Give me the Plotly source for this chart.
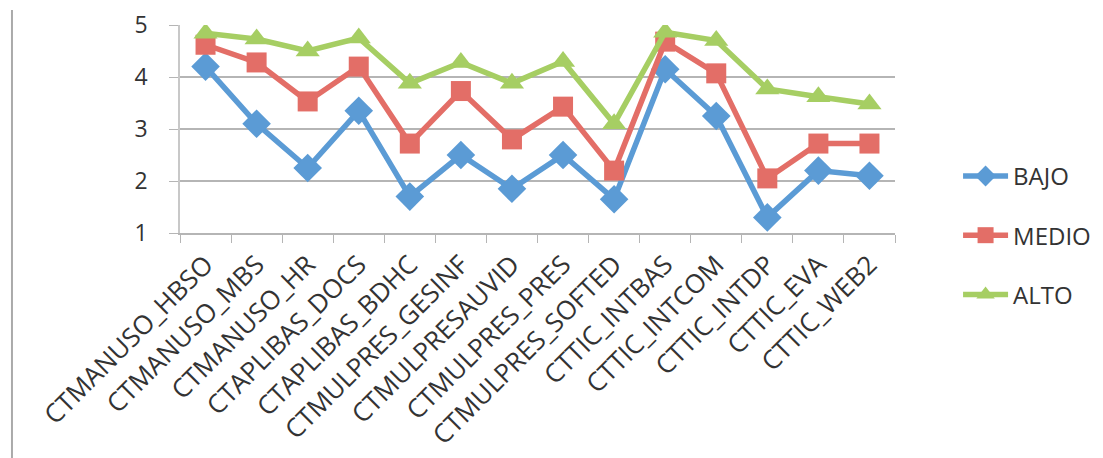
import plotly.graph_objects as go

categories = ["CTMANUSO_HBSO", "CTMANUSO_MBS", "CTMANUSO_HR", "CTAPLIBAS_DOCS",
              "CTAPLIBAS_BDHC", "CTMULPRES_GESINF", "CTMULPRESAUVID", "CTMULPRES_PRES",
              "CTMULPRES_SOFTED", "CTTIC_INTBAS", "CTTIC_INTCOM", "CTTIC_INTDP",
              "CTTIC_EVA", "CTTIC_WEB2"]
bajo = [4.2, 3.1, 2.25, 3.35, 1.7, 2.5, 1.85, 2.5, 1.65, 4.15, 3.25, 1.3, 2.2, 2.1]
medio = [4.62, 4.28, 3.53, 4.2, 2.72, 3.73, 2.8, 3.43, 2.2, 4.68, 4.07, 2.05, 2.72, 2.72]
alto = [4.84, 4.73, 4.5, 4.75, 3.88, 4.28, 3.88, 4.3, 3.1, 4.86, 4.7, 3.77, 3.62, 3.48]
y_ticks = [1, 2, 3, 4, 5]

series = [("BAJO", bajo, "#5B9BD5", "diamond", 22),
          ("MEDIO", medio, "#E36E67", "square", 20),
          ("ALTO", alto, "#A6CE63", "triangle-up", 21)]

fig = go.Figure()
for name, vals, color, sym, size in series:
    fig.add_trace(go.Scatter(
        x=categories, y=vals, name=name, mode="lines+markers",
        line=dict(color=color, width=5.5),
        marker=dict(symbol=sym, size=size, color=color),
        legendgroup=name,
    ))

fig.update_layout(
    width=1103, height=458,
    paper_bgcolor="white", plot_bgcolor="white",
    margin=dict(l=180, r=208, t=25, b=225, autoexpand=False),
    font=dict(family="Open Sans, Liberation Sans, sans-serif", color="#333333"),
    showlegend=True,
    legend=dict(xref="container", yref="container", x=0.8686, y=0.664,
                xanchor="left", yanchor="top",
                font=dict(size=24, color="#333333"), tracegroupgap=25,
                bgcolor="rgba(0,0,0,0)", itemwidth=45, borderwidth=0),
)
fig.update_xaxes(
    type="category", range=[-0.5, 13.5], tickangle=-45,
    tickson="boundaries", ticks="outside", ticklen=8, tickcolor="#B5B5B5",
    showline=True, linecolor="#B5B5B5", linewidth=2,
    showgrid=False, tickfont=dict(size=26, color="#333333"),
    ticklabelstandoff=4, automargin=False,
)
fig.update_yaxes(
    range=[1, 5], tickvals=y_ticks, ticks="outside", ticklen=9, tickcolor="#B5B5B5",
    showline=True, linecolor="#C8C8C8", linewidth=1.5,
    showgrid=True, gridcolor="#B5B5B5", gridwidth=2,
    tickfont=dict(size=23, color="#333333"), zeroline=False,
    ticklabelstandoff=17, automargin=False,
)
fig.add_shape(type="line", xref="paper", yref="paper",
              x0=-0.235, x1=-0.235, y0=-1.2, y1=1.072,
              line=dict(color="#AAAAAA", width=2))

fig.write_html(
    "out.html",
    config={"displayModeBar": False},
    post_script="document.body.style.margin='0';document.body.style.overflow='hidden';",
)
